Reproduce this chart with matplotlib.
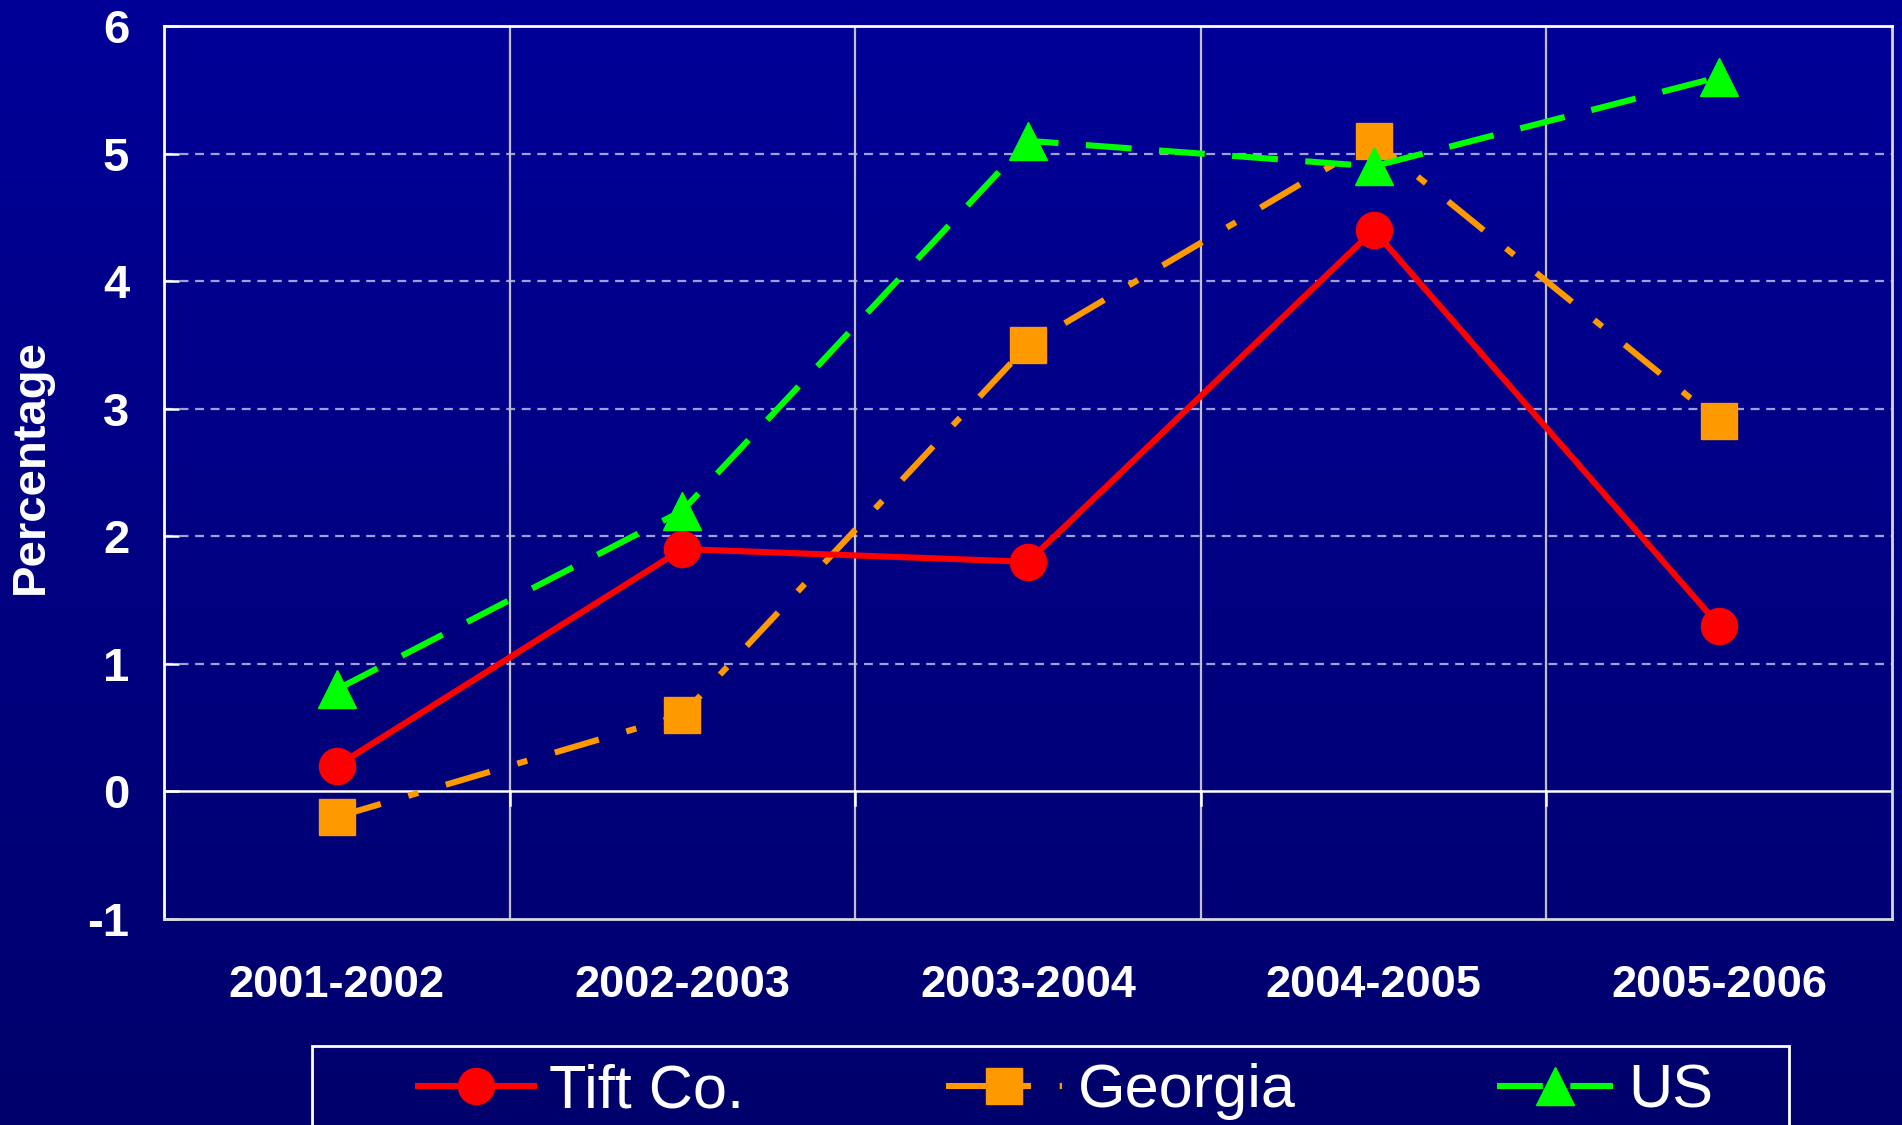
import matplotlib.pyplot as plt
import matplotlib.patches as mpatches
import numpy as np

# data
years = ["2001-2002", "2002-2003", "2003-2004", "2004-2005", "2005-2006"]
tift = [0.2, 1.9, 1.8, 4.4, 1.3]
georgia = [-0.2, 0.6, 3.5, 5.1, 2.9]
us = [0.8, 2.2, 5.1, 4.9, 5.6]
yticks = [-1, 0, 1, 2, 3, 4, 5, 6]

W, H = 1902, 1125
plt.rcParams['font.family'] = ['Liberation Sans', 'DejaVu Sans']
plt.rcParams['axes.unicode_minus'] = False

fig = plt.figure(figsize=(W / 100, H / 100), dpi=100)

# background gradient, darker towards the bottom
bg = fig.add_axes([0, 0, 1, 1], zorder=-10)
grad = np.linspace(0, 1, 256)[:, None]
top_c = np.array([0, 0, 152]) / 255
bot_c = np.array([0, 0, 108]) / 255
img = top_c + (bot_c - top_c) * grad[..., None]
bg.imshow(np.repeat(img, 2, axis=1), aspect='auto', extent=[0, 1, 0, 1])
bg.axis('off')

ax = fig.add_axes([164 / W, 1 - 919 / H, (1892 - 164) / W, (919 - 26) / H])
ax.set_facecolor('none')

x = np.arange(len(years))
lw = 4.4
l1, = ax.plot(x, tift, color='#ff0000', lw=lw, marker='o', ms=26,
              mec='#ff0000', label='Tift Co.', zorder=5)
l2, = ax.plot(x, georgia, color='#ff9900', lw=lw, marker='s', ms=26,
              mec='#ff9900', label='Georgia', zorder=4)
l2.set_dashes([7.5, 4.7, 1.7, 4.7])
l3, = ax.plot(x, us, color='#00ff00', lw=lw, marker='^', ms=28,
              mec='#00ff00', label='US', zorder=6)
l3.set_dashes([7.5, 4.5])

ax.set_xlim(-0.5, len(years) - 0.5)
ax.set_ylim(-1, 6)
ax.set_yticks(yticks)
ax.set_xticks(x)
ax.set_xticklabels(years)

# grid
for yv in yticks[2:-1]:
    ax.axhline(yv, color='#a0a0d8', lw=1.6, dashes=(4, 3), zorder=1)
ax.axhline(0, color='white', lw=1.8, zorder=2)
for xv in x[:-1] + 0.5:
    ax.axvline(xv, color='#c0c0cc', lw=1.6, zorder=1)
    ax.plot([xv, xv], [0, -0.11], color='white', lw=1.8, zorder=2)

for s in ['left', 'top']:
    ax.spines[s].set_color('white')
    ax.spines[s].set_linewidth(2)
for s in ['right', 'bottom']:
    ax.spines[s].set_color('#d8d8e0')
    ax.spines[s].set_linewidth(2)

ax.tick_params(axis='y', direction='in', length=11, width=1.8, color='white',
               pad=25, labelsize=34, labelcolor='white')
ax.tick_params(axis='x', length=0, pad=33, labelsize=32.5, labelcolor='white')
for t in ax.get_xticklabels() + ax.get_yticklabels():
    t.set_fontweight('bold')

fig.text(31 / W, 1 - 467 / H, 'Percentage', rotation=90, ha='center',
         va='center', fontsize=34, fontweight='bold', color='white')

# legend box
fig.patches.append(mpatches.Rectangle((312 / W, -0.05), (1789 - 312) / W,
                                      0.05 + 1 - 1046 / H, transform=fig.transFigure,
                                      fill=False, ec='white', lw=2))
leg = fig.legend(handles=[l1, l2, l3], loc='center left', ncol=3,
                 bbox_to_anchor=(418 / W, 1 - 1092 / H), frameon=False,
                 borderpad=0, borderaxespad=0, handlelength=1.9,
                 handletextpad=0.25, columnspacing=3.3,
                 prop={'size': 44})
for t in leg.get_texts():
    t.set_color('white')

fig.savefig('out.png', dpi=100)
